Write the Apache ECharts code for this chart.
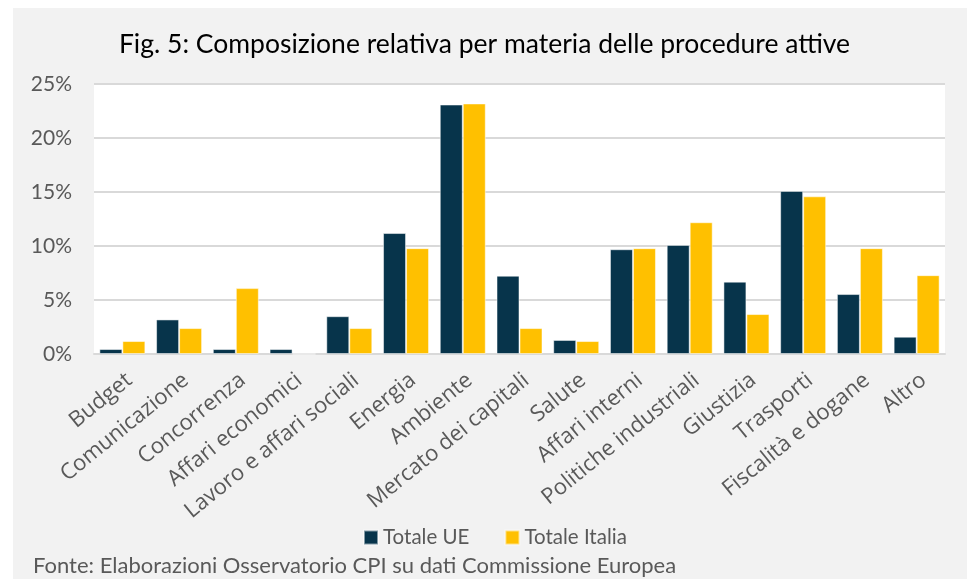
<!DOCTYPE html>
<html>
<head>
<meta charset="utf-8">
<script src="https://cdn.jsdelivr.net/npm/echarts@6/dist/echarts.min.js"></script>
<style>
html,body{margin:0;padding:0;background:#fff;}
#c{width:969px;height:579px;}
</style>
</head>
<body>
<div id="c"></div>
<script>
const categories = ["Budget","Comunicazione","Concorrenza","Affari economici","Lavoro e affari sociali","Energia","Ambiente","Mercato dei capitali","Salute","Affari interni","Politiche industriali","Giustizia","Trasporti","Fiscalità e dogane","Altro"];
const totaleUE = [0.46,3.2,0.46,0.46,3.5,11.2,23.1,7.25,1.3,9.7,10.1,6.7,15.1,5.55,1.6];
const totaleItalia = [1.2,2.4,6.1,0,2.4,9.8,23.2,2.4,1.2,9.8,12.2,3.7,14.6,9.8,7.3];
const yTicks = [0,5,10,15,20,25];

const FONT = "Lato, 'Open Sans', sans-serif";
const LFONT = "'Open Sans', sans-serif";
const chart = echarts.init(document.getElementById('c'), null, {renderer:'canvas'});
chart.setOption({
  backgroundColor:'#ffffff',
  animation:false,
  graphic:[
    {type:'rect', z:-10, shape:{x:13,y:8,width:954,height:571}, style:{fill:'#f2f2f2'}},
    {type:'rect', z:-9, shape:{x:94,y:84,width:851,height:270}, style:{fill:'#ffffff'}},
    {type:'text', left:33, top:555, style:{text:'Fonte: Elaborazioni Osservatorio CPI su dati Commissione Europea', fill:'#595959', font:'22px '+FONT}}
  ],
  title:{
    text:'Fig. 5: Composizione relativa per materia delle procedure attive',
    left:'center', top:26,
    textStyle:{fontFamily:FONT, fontSize:26.5, fontWeight:'normal', color:'#000'}
  },
  legend:{
    data:['Totale UE','Totale Italia'],
    left:358, top:522,
    itemWidth:14, itemHeight:14, itemGap:35,
    icon:'rect',
    textStyle:{fontFamily:FONT, fontSize:20.5, color:'#595959'}
  },
  grid:{left:94, right:24, top:84, bottom:225, containLabel:false},
  xAxis:{
    type:'category', data:categories,
    axisLine:{show:true, lineStyle:{color:'#d9d9d9', width:2}},
    axisTick:{show:false},
    axisLabel:{interval:0, rotate:39, fontFamily:LFONT, fontSize:22, color:'#595959', margin:15, verticalAlign:'top'}
  },
  yAxis:{
    type:'value', min:yTicks[0], max:yTicks[yTicks.length-1], interval:5,
    axisLine:{show:false}, axisTick:{show:false},
    splitLine:{lineStyle:{color:'#d9d9d9', width:2}},
    axisLabel:{formatter:v=>v+'%', fontFamily:FONT, fontSize:21, color:'#595959', margin:22}
  },
  series:[
    {name:'Totale UE', type:'bar', data:totaleUE, barWidth:23, barGap:'0%',
     itemStyle:{color:'#07344b', borderColor:'rgba(255,255,255,0.5)', borderWidth:1}},
    {name:'Totale Italia', type:'bar', data:totaleItalia, barWidth:23, barGap:'0%',
     itemStyle:{color:'#ffc000', borderColor:'rgba(255,255,255,0.5)', borderWidth:1}}
  ]
});
</script>
</body>
</html>
